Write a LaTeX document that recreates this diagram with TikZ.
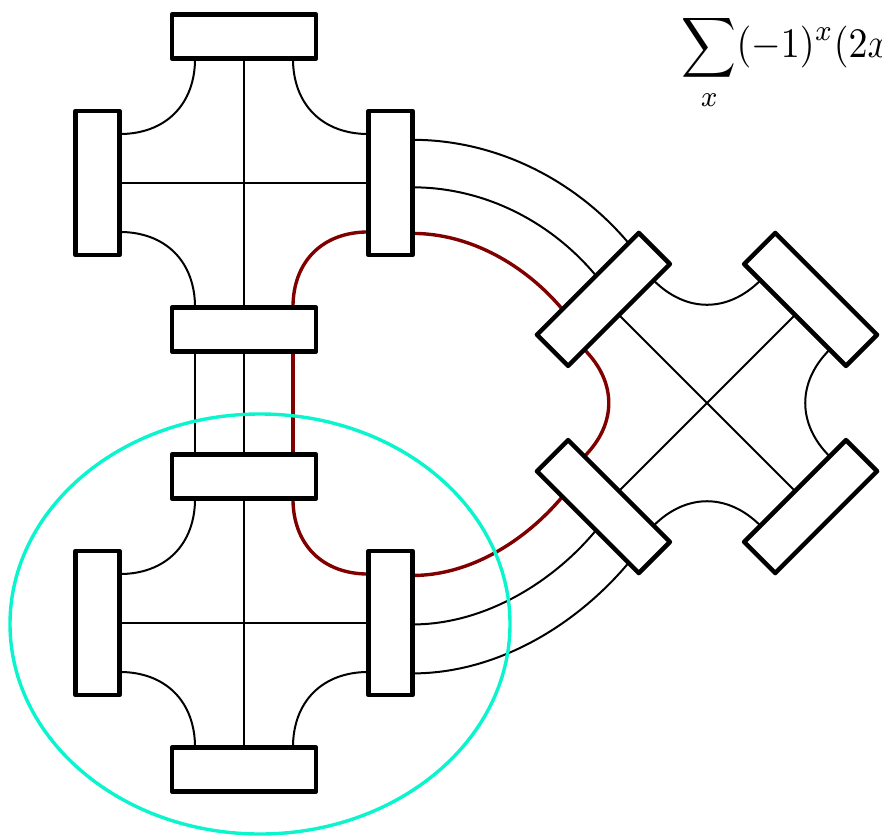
\documentclass[tikz,border=0pt]{standalone}
\usetikzlibrary{calc,backgrounds}
\definecolor{loopred}{RGB}{128,0,0}
\definecolor{ringcyan}{RGB}{10,245,205}
\tikzset{
  hbox/.style={draw,fill=white,line width=4.5pt,line join=round,minimum width=144pt,minimum height=44pt,inner sep=0pt,outer sep=0pt,transform shape},
  vbox/.style={hbox,minimum width=44pt,minimum height=144pt},
  wire/.style={line width=2pt,draw=black},
  redwire/.style={line width=3.4pt,draw=loopred},
  ring/.style={draw=ringcyan,line width=3.4pt},
}
% one cross: four boxes and their inner ports
\newcommand\crossunit[4]{%
  \begin{scope}[shift={(#2,#3)},rotate=#4]
    \node[hbox] (#1-N) at (0,-146.5) {};
    \node[hbox] (#1-S) at (0,146.5) {};
    \node[vbox] (#1-W) at (-146.5,0) {};
    \node[vbox] (#1-E) at (146.5,0) {};
  \end{scope}
  \coordinate (#1-Na) at ($(#1-N.south west)!0.16!(#1-N.south east)$);
  \coordinate (#1-Nb) at ($(#1-N.south west)!0.84!(#1-N.south east)$);
  \coordinate (#1-Sa) at ($(#1-S.north west)!0.16!(#1-S.north east)$);
  \coordinate (#1-Sb) at ($(#1-S.north west)!0.84!(#1-S.north east)$);
  \coordinate (#1-Wa) at ($(#1-W.north east)!0.16!(#1-W.south east)$);
  \coordinate (#1-Wb) at ($(#1-W.north east)!0.84!(#1-W.south east)$);
  \coordinate (#1-Ea) at ($(#1-E.north west)!0.16!(#1-E.south west)$);
  \coordinate (#1-Eb) at ($(#1-E.north west)!0.84!(#1-E.south west)$);
}
% corner arc: from #2 (pulled toward #3) to #4 (pulled toward #5)
\newcommand\cornerarc[5]{%
  \draw[#1] (#2) .. controls ($(#2)!0.185!(#3)$) and ($(#4)!0.185!(#5)$) .. (#4);}
% straight lines and arcs inside a cross
\newcommand\crosswires[5]{% name, NW, NE, SE, SW styles
  \draw[wire] (#1-N.south) -- (#1-S.north);
  \draw[wire] (#1-W.east) -- (#1-E.west);
  \cornerarc{#2}{#1-Na}{#1-Sa}{#1-Wa}{#1-Ea}
  \cornerarc{#3}{#1-Nb}{#1-Sb}{#1-Ea}{#1-Wa}
  \cornerarc{#4}{#1-Sb}{#1-Nb}{#1-Eb}{#1-Wb}
  \cornerarc{#5}{#1-Sa}{#1-Na}{#1-Wb}{#1-Eb}
}
\begin{document}
\begin{tikzpicture}[x=1pt,y=-1pt]
\useasboundingbox (0,0) rectangle (882,837);

\crossunit{A}{244}{183}{0}
\crossunit{B}{244}{623}{0}
\crossunit{C}{707}{403}{45}

% outer ports
\coordinate (A-E1) at ($(A-E.north east)!0.20!(A-E.south east)$);
\coordinate (A-E2) at ($(A-E.north east)!0.53!(A-E.south east)$);
\coordinate (A-E3) at ($(A-E.north east)!0.85!(A-E.south east)$);
\coordinate (B-E1) at ($(B-E.north east)!0.17!(B-E.south east)$);
\coordinate (B-E2) at ($(B-E.north east)!0.51!(B-E.south east)$);
\coordinate (B-E3) at ($(B-E.north east)!0.85!(B-E.south east)$);
\coordinate (C-N1) at ($(C-N.north west)!0.25!(C-N.north east)$);
\coordinate (C-N2) at ($(C-N.north west)!0.58!(C-N.north east)$);
\coordinate (C-N3) at ($(C-N.north west)!0.90!(C-N.north east)$);
\coordinate (C-W1) at ($(C-W.north west)!0.25!(C-W.south west)$);
\coordinate (C-W2) at ($(C-W.north west)!0.58!(C-W.south west)$);
\coordinate (C-W3) at ($(C-W.north west)!0.90!(C-W.south west)$);
\coordinate (A-S1) at ($(A-S.south west)!0.16!(A-S.south east)$);
\coordinate (A-S3) at ($(A-S.south west)!0.84!(A-S.south east)$);
\coordinate (B-N1) at ($(B-N.north west)!0.16!(B-N.north east)$);
\coordinate (B-N3) at ($(B-N.north west)!0.84!(B-N.north east)$);

\begin{pgfonlayer}{background}
  \crosswires{A}{wire}{wire}{redwire}{wire}
  \crosswires{B}{wire}{redwire}{wire}{wire}
  \crosswires{C}{redwire}{wire}{wire}{wire}
  % links between the two left crosses
  \draw[wire] (A-S.south) -- (B-N.north);
  \draw[wire] (A-S1) -- (B-N1);
  \draw[redwire] (A-S3) -- (B-N3);
  % links to the rotated cross
  \draw[wire] (A-E1) .. controls ($(A-E1)+(84,0)$) and ($(C-N3)+(-53,-63)$) .. (C-N3);
  \draw[wire] (A-E2) .. controls ($(A-E2)+(72,0)$) and ($(C-N2)+(-45,-54)$) .. (C-N2);
  \draw[redwire] (A-E3) .. controls ($(A-E3)+(58,0)$) and ($(C-N1)+(-37,-44)$) .. (C-N1);
  \draw[redwire] (B-E1) .. controls ($(B-E1)+(58,0)$) and ($(C-W1)+(-37,44)$) .. (C-W1);
  \draw[wire] (B-E2) .. controls ($(B-E2)+(71,0)$) and ($(C-W2)+(-44,53)$) .. (C-W2);
  \draw[wire] (B-E3) .. controls ($(B-E3)+(84,0)$) and ($(C-W3)+(-53,63)$) .. (C-W3);
\end{pgfonlayer}

\draw[ring] (260,624) ellipse [x radius=250pt, y radius=210pt];

\node[anchor=base west, inner sep=0pt, xscale=3.8, yscale=4.2] (formula) at (681,58)
  {$\displaystyle\sum_x(-1)^x(2x$};
\end{tikzpicture}
\end{document}
